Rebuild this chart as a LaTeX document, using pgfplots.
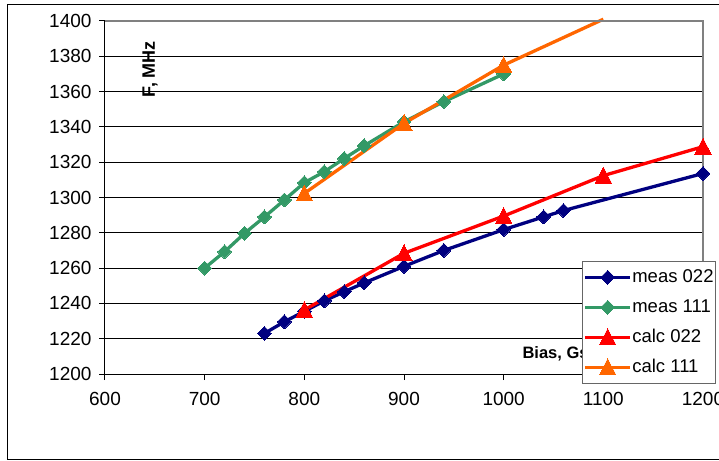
\documentclass[border=0pt]{standalone}
\usepackage{pgfplots}
\pgfplotsset{compat=1.18}
\usepackage{fontspec}
\setmainfont{Liberation Sans}

\definecolor{navyline}{HTML}{000080}
\definecolor{seagreen}{HTML}{339966}
\definecolor{calcred}{HTML}{FF0000}
\definecolor{calcorange}{HTML}{FF6600}

\begin{document}
\begin{tikzpicture}
\begin{axis}[
  at={(0pt,0pt)}, anchor=south west,
  scale only axis,
  width=598pt, height=353pt,
  xmin=600, xmax=1200, ymin=1200, ymax=1400,
  xtick={600,700,...,1200},
  ytick={1200,1220,...,1400},
  axis x line*=bottom, axis y line*=left,
  axis line style={black, line width=1pt, -},
  ymajorgrids,
  grid style={black, line width=0.9pt},
  tick align=outside,
  major tick length=6pt,
  tick style={black, line width=1pt},
  /pgf/number format/assume math mode=true,
  /pgf/number format/set thousands separator={},
  tick label style={font=\fontsize{19}{22}\selectfont},
  xticklabel style={yshift=-9pt},
  yticklabel style={xshift=-4pt},
  clip=false,
  every axis y label/.style={at={(axis description cs:0.0753,0.864)}, rotate=90, anchor=center,
    font=\bfseries\fontsize{18}{20}\selectfont},
  every axis x label/.style={at={(axis description cs:0.6923,0.057)}, anchor=west,
    font=\bfseries\fontsize{16.5}{19}\selectfont},
  ylabel={F, MHz},
  xlabel={Bias, Gs},
  legend cell align=left,
  legend style={at={(axis description cs:0.7977,0.3201)}, anchor=north west,
    draw=black!60, line width=1pt, fill=white,
    inner xsep=1pt, inner ysep=7pt, row sep=12.5pt,
    font=\fontsize{18.5}{21}\selectfont,
    nodes={inner ysep=0pt, inner xsep=0.5pt, text height=13.5pt, text depth=4pt}},
  legend image code/.code={
    \draw[mark repeat=2, mark phase=2] plot coordinates {(0pt,0pt) (22.5pt,0pt) (45pt,0pt)};
  },
]
% measured, 022 mode
\addplot[navyline, line width=3.3pt, mark=square*, mark size=4.9pt,
  mark options={rotate=45, solid, line width=0pt}] coordinates {
  (760,1223) (780,1229.6) (800,1235.5) (820,1241.4) (840,1246.6) (860,1251.6)
  (900,1261) (940,1270) (1000,1281.8) (1040,1289) (1060,1292.6) (1200,1313.6)
};
\addlegendentry{meas 022}
% measured, 111 mode
\addplot[seagreen, line width=3.3pt, mark=square*, mark size=4.9pt,
  mark options={rotate=45, solid, line width=0pt}] coordinates {
  (700,1260) (720,1269.3) (740,1279.7) (760,1289) (780,1298.6) (800,1308.4)
  (820,1314.6) (840,1322.1) (860,1329.3) (900,1342.9) (940,1354.3) (1000,1370)
};
\addlegendentry{meas 111}
% calculated, 022 mode
\addplot[calcred, line width=3.3pt, mark=triangle*, mark size=9.5pt,
  mark options={solid, line width=0pt, yscale=1.12, yshift=-2pt}] coordinates {
  (800,1236.3) (900,1268.4) (1000,1289.5) (1100,1312.4) (1200,1328.8)
};
\addlegendentry{calc 022}
% calculated, 111 mode: the curve runs on to the top of the range
\addplot[calcorange, line width=3.3pt, forget plot] coordinates {
  (1000,1375) (1100,1401)
};
\addplot[calcorange, line width=3.3pt, mark=triangle*, mark size=9.5pt,
  mark options={solid, line width=0pt, yscale=1.12, yshift=-2pt}] coordinates {
  (800,1302.3) (900,1342) (1000,1375)
};
\addlegendentry{calc 111}
% plot-area frame on the top and right
\draw[black!50, line width=1.5pt] (rel axis cs:0,1) -- (rel axis cs:1,1) -- (rel axis cs:1,0);
\end{axis}
% chart-area frame
\draw[black, line width=1pt] (-97pt,-85pt) rectangle (640pt,369pt);
\pgfresetboundingbox
\useasboundingbox (-105pt,-86pt) rectangle (614pt,374pt);
\end{tikzpicture}
\end{document}
